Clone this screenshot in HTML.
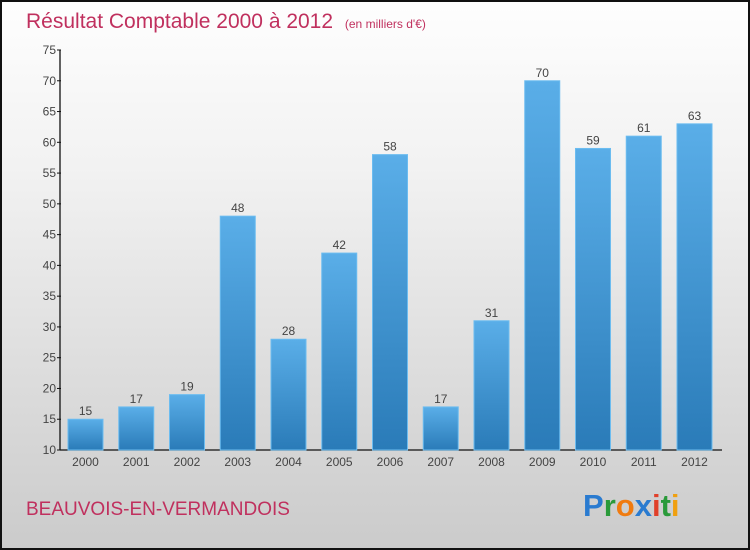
<!DOCTYPE html>
<html><head><meta charset="utf-8"><style>
body{margin:0}
#c{width:750px;height:550px;position:relative;box-sizing:border-box;border:2px solid #111;background:linear-gradient(#fefefe,#f2f2f2 30%,#cbcbcb);font-family:"Liberation Sans",sans-serif;overflow:hidden}
</style></head><body>
<div id="c">
<svg id="s" width="746" height="546" style="position:absolute;left:0;top:0">
<defs><linearGradient id="g" x1="0" y1="0" x2="0" y2="1"><stop offset="0" stop-color="#5aaee8"/><stop offset="1" stop-color="#2a7bb8"/></linearGradient></defs>
<text x="24" y="26" font-size="21" fill="#c0305e">Résultat Comptable 2000 à 2012 <tspan font-size="12" dx="6">(en milliers d'€)</tspan></text>
<text x="24" y="513" font-size="19" fill="#c0305e">BEAUVOIS-EN-VERMANDOIS</text>
<text x="581" y="514" font-size="31" font-weight="bold"><tspan fill="#2a7bd0">P</tspan><tspan fill="#2a9a3a">r</tspan><tspan fill="#f07b10">o</tspan><tspan fill="#2a7bd0">x</tspan><tspan fill="#e0402a">i</tspan><tspan fill="#2a9a3a">t</tspan><tspan fill="#f0a010">i</tspan></text>
<g id="plot"></g>
</svg>
</div>
<script>
const categories=["2000","2001","2002","2003","2004","2005","2006","2007","2008","2009","2010","2011","2012"];
const values=[15,17,19,48,28,42,58,17,31,70,59,61,63];
const yTicks=[10,15,20,25,30,35,40,45,50,55,60,65,70,75];
const ox=-2,oy=-2;
const y=v=>450+oy-(v-10)*400/65;
const x=i=>85.5+ox+i*50.75;
const g=document.getElementById('plot');
const NS="http://www.w3.org/2000/svg";
function mk(t,a,txt){const e=document.createElementNS(NS,t);for(const k in a)e.setAttribute(k,a[k]);if(txt!==undefined)e.textContent=txt;g.appendChild(e);return e;}
let e=mk('line',{x1:60+ox,y1:y(75),x2:60+ox,y2:y(10),stroke:'#111','stroke-width':1.3});

e=mk('line',{x1:60+ox,y1:y(10),x2:722+ox,y2:y(10),stroke:'#111','stroke-width':1.3});

yTicks.forEach(t=>{
 let l=mk('line',{x1:57+ox,y1:y(t),x2:61+ox,y2:y(t),stroke:'#111'});
 
 let tx=mk('text',{x:56+ox,y:y(t)+4,'font-size':12,fill:'#444','text-anchor':'end'},t);
 
});
categories.forEach((c,i)=>{
 const v=values[i];
 let r=mk('rect',{x:x(i)-17.5,y:y(v),width:35,height:y(10)-y(v),fill:'url(#g)',stroke:'#6bbcf0','stroke-width':1});
 
 let vl=mk('text',{x:x(i),y:y(v)-4,'font-size':12,fill:'#444','text-anchor':'middle'},v);
 
 let xl=mk('text',{x:x(i),y:y(10)+16,'font-size':12,fill:'#444','text-anchor':'middle'},c);
 
});
</script>
</body></html>
